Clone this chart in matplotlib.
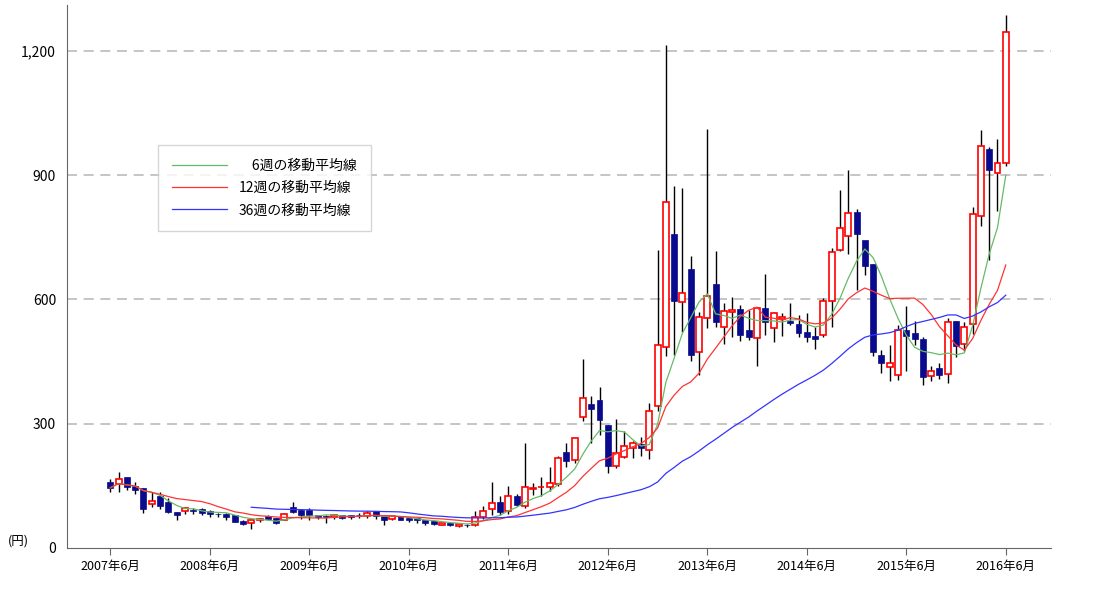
import matplotlib
matplotlib.use("Agg")
from matplotlib import pyplot as plt
import numpy as np
import pandas as pd

plt.rcParams['font.family'] = 'Noto Sans CJK JP'

# monthly candles, 2007/6 .. 2016/6
opens = [160,155,170,150,144,105,124,110,86,90,92,94,88,82,82,78,65,61,68,76,
         72,68,98,92,92,80,76,74,78,79,80,76,88,80,70,76,72,72,68,64,
         56,60,52,56,56,74,94,110,88,124,102,142,146,148,154,232,212,316,348,358,
         296,198,220,240,250,236,342,484,758,594,674,472,554,636,532,570,576,526,506,578,
         530,552,548,540,520,512,513,597,718,752,810,744,686,465,436,418,525,518,504,414,
         434,420,548,493,540,800,962,904,928]
highs = [166,182,172,160,144,134,134,120,86,98,97,95,92,85,84,78,68,70,72,80,
         72,84,110,94,96,80,80,82,78,80,84,88,89,80,76,76,72,72,68,64,
         61,60,57,58,90,100,160,126,150,130,254,156,172,196,222,254,266,456,366,388,
         296,310,282,258,268,350,718,1214,874,868,704,570,1012,716,592,606,586,574,582,660,
         570,568,590,562,566,534,602,724,864,912,818,717,686,478,490,537,584,548,510,440,
         446,556,548,546,822,1008,968,986,1286]
lows = [134,134,140,129,84,98,94,84,68,82,82,80,74,74,68,62,55,46,62,68,
        58,66,84,70,66,70,60,70,70,70,72,72,70,56,68,66,62,60,56,54,
        54,52,50,50,52,70,80,80,82,100,96,128,124,138,150,196,204,306,252,272,
        180,192,218,218,222,214,330,462,466,522,450,416,530,532,492,510,500,502,440,514,
        498,512,538,510,498,480,508,534,716,710,622,658,462,422,402,404,426,490,392,402,
        408,398,460,474,516,776,696,814,922]
closes = [145,165,146,140,94,114,100,86,80,95,90,85,82,81,74,62,58,66,70,70,
          60,82,86,80,80,74,75,80,73,74,78,85,77,68,76,68,66,66,60,58,
          61,54,57,55,74,90,108,86,124,104,148,144,148,156,216,210,266,362,336,308,
          198,228,246,252,242,330,489,836,596,616,465,558,608,546,572,575,514,508,578,544,
          568,558,542,518,508,504,597,714,772,808,757,680,472,445,446,525,512,505,413,426,
          418,546,488,532,806,971,912,930,1246]
year_labels = ["%d年6月" % y for y in range(2007, 2017)]

n = len(closes)
idx = np.arange(n)
close_s = pd.Series(closes)
ma6 = close_s.rolling(6, min_periods=1).mean()
ma12 = close_s.rolling(12, min_periods=1).mean()
ma36 = close_s.rolling(36, min_periods=18).mean()

fig = plt.figure(figsize=(11.2, 6), dpi=100)
ax = fig.add_axes([0.06, 0.087, 0.878, 0.905])

for i in idx:
    o, h, l, c = opens[i], highs[i], lows[i], closes[i]
    ax.vlines(i, l, h, color="black", linewidth=1, zorder=2)
    if c >= o:
        ax.bar(i, max(c - o, 2), bottom=o, width=0.72, facecolor="white",
               edgecolor="red", linewidth=1.2, zorder=3)
    else:
        ax.bar(i, o - c, bottom=c, width=0.72, facecolor="#0a0a8c",
               edgecolor="#0a0a8c", linewidth=0.5, zorder=3)

ax.plot(idx, ma6, color="#66bb66", linewidth=0.9, label="　6週の移動平均線", zorder=4)
ax.plot(idx, ma12, color="#ff3333", linewidth=0.9, label="12週の移動平均線", zorder=4)
ax.plot(idx, ma36, color="#3333ff", linewidth=0.9, label="36週の移動平均線", zorder=4)

ax.set_xlim(-5.2, 113.4)
ax.set_ylim(0, 1311)
ax.set_yticks([0, 300, 600, 900, 1200])
ax.set_yticklabels(["0", "300", "600", "900", "1,200"], fontsize=10)
ax.set_xticks(np.arange(0, n, 12))
ax.set_xticklabels(year_labels, fontsize=9)
for v in [300, 600, 900, 1200]:
    ax.axhline(v, color="#bbbbbb", linestyle=(0, (6, 4)), linewidth=1.2, zorder=1)

for s in ["top", "right"]:
    ax.spines[s].set_visible(False)
ax.spines["left"].set_color("#666666")
ax.spines["bottom"].set_color("#666666")
ax.tick_params(axis="y", length=0, pad=8)
ax.tick_params(axis="x", direction="out", length=5, color="#666666")
ax.text(-0.06, 0.0, "(円)", transform=ax.transAxes, fontsize=9, va="bottom")

leg = ax.legend(loc="upper left", bbox_to_anchor=(0.085, 0.755), fontsize=10,
                frameon=True, fancybox=False, edgecolor="#cccccc",
                handlelength=4, borderpad=1, labelspacing=0.6)

plt.savefig("out.png", dpi=100)
